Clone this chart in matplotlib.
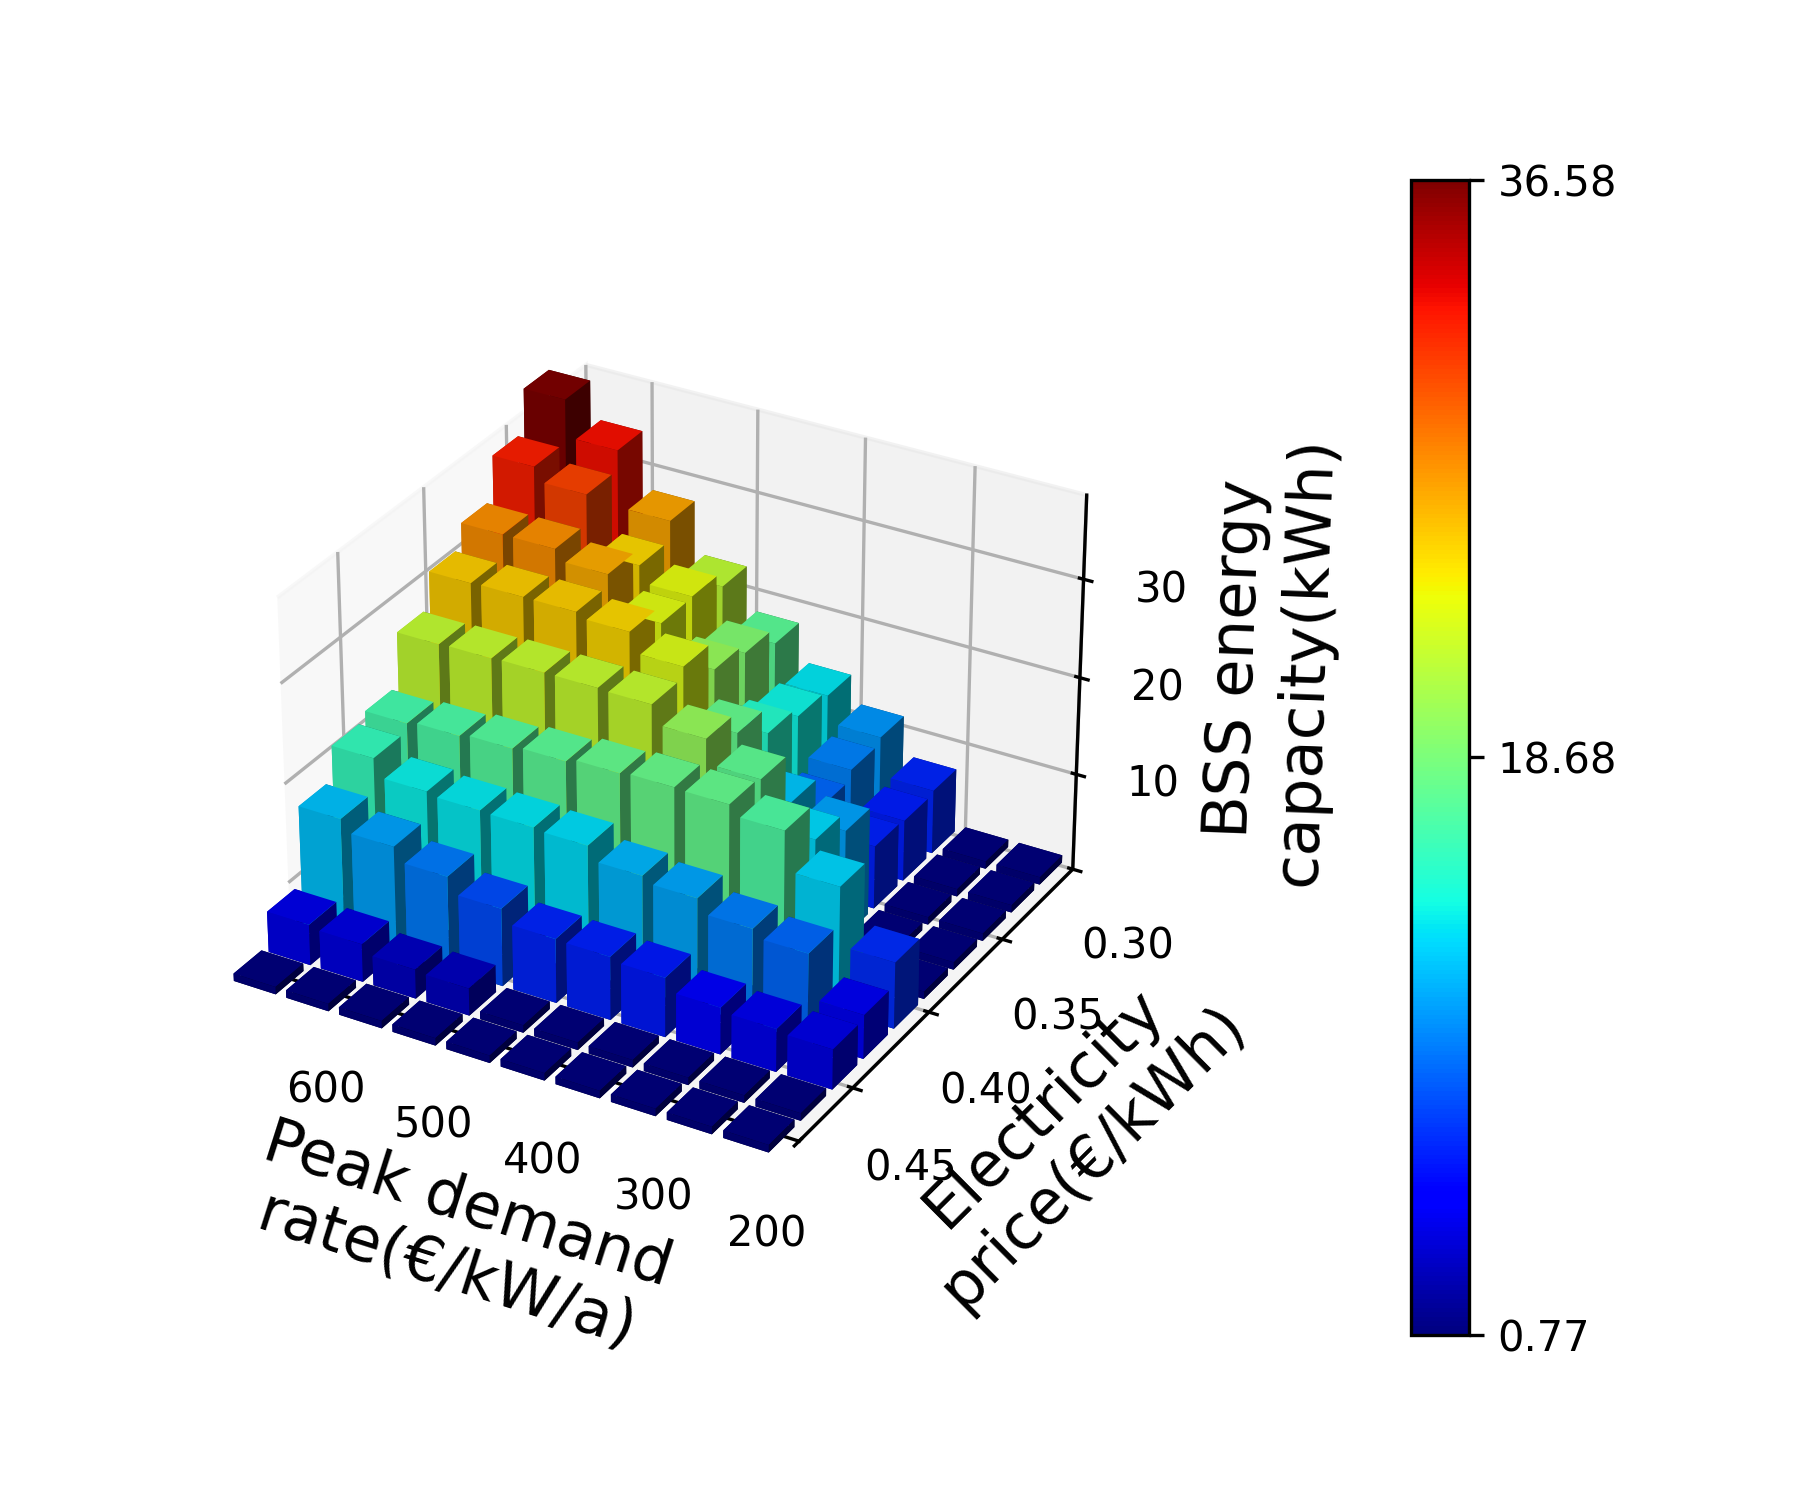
import numpy as np
import matplotlib
matplotlib.use("Agg")
import matplotlib.pyplot as plt
from matplotlib import cm
from matplotlib.colors import Normalize, LightSource

# peak demand rate, left -> right along the x axis
peak_rates = [650, 600, 550, 500, 450, 400, 350, 300, 250, 200]
# electricity price, front -> back along the y axis
prices = [0.48, 0.46, 0.44, 0.42, 0.40, 0.38, 0.36, 0.34, 0.32, 0.30]

# BSS energy capacity (kWh) for each price, in the order of peak_rates
cap_p048 = [0.77, 0.77, 0.77, 0.77, 0.77, 0.77, 0.77, 0.77, 0.77, 0.77]
cap_p046 = [4.2, 3.9, 3.0, 2.8, 0.77, 0.77, 0.77, 0.77, 0.77, 0.77]
cap_p044 = [12.2, 11.0, 9.6, 8.0, 6.6, 6.5, 6.1, 4.8, 4.4, 4.1]
cap_p042 = [15.6, 13.8, 13.5, 13.4, 13.2, 11.8, 11.2, 9.8, 9.0, 4.5]
cap_p040 = [16.4, 16.7, 17.0, 17.3, 17.7, 17.9, 17.8, 16.8, 12.8, 6.8]
cap_p038 = [21.8, 21.9, 22.0, 22.0, 21.9, 20.0, 17.5, 13.0, 0.77, 0.77]
cap_p036 = [25.4, 25.5, 25.5, 25.0, 23.0, 17.8, 12.3, 11.0, 0.77, 0.77]
cap_p034 = [27.8, 27.8, 26.7, 23.2, 20.0, 15.0, 9.0, 6.5, 0.77, 0.77]
cap_p032 = [32.2, 30.8, 25.0, 23.3, 19.0, 14.0, 10.0, 6.3, 0.77, 0.77]
cap_p030 = [36.58, 32.8, 27.0, 21.7, 17.3, 13.4, 10.6, 6.6, 0.77, 0.77]

x_ticks = [600, 500, 400, 300, 200]
y_ticks = [0.30, 0.35, 0.40, 0.45]
z_ticks = [10, 20, 30]
cbar_ticks = [0.77, 18.68, 36.58]

cap = np.array([cap_p048, cap_p046, cap_p044, cap_p042, cap_p040,
                cap_p038, cap_p036, cap_p034, cap_p032, cap_p030])

xi, yi = np.meshgrid(np.arange(len(peak_rates)), np.arange(len(prices)))
xpos = xi.ravel().astype(float)
ypos = yi.ravel().astype(float)
dz = cap.ravel()

norm = Normalize(vmin=min(cbar_ticks), vmax=max(cbar_ticks))
cmap = plt.get_cmap("jet")

fig = plt.figure(figsize=(6, 5), dpi=300)
ax = fig.add_subplot(111, projection="3d")
ax.bar3d(xpos, ypos, np.zeros_like(dz), 0.8, 0.8, dz,
         color=cmap(norm(dz)), shade=True,
         lightsource=LightSource(azdeg=225, altdeg=45))

x_lim = (0.78, 10.05)
y_lim = (0.5, 9.7)
rate_step = peak_rates[0] - peak_rates[1]
price_step = prices[0] - prices[1]
ax.set_xticks([x_lim[1] - (r - x_ticks[-1]) / rate_step for r in x_ticks])
ax.set_xticklabels([str(r) for r in x_ticks])
ax.set_yticks([y_lim[1] - (p - y_ticks[0]) / price_step for p in y_ticks])
ax.set_yticklabels([f"{p:.2f}" for p in y_ticks])
ax.set_zticks(z_ticks)
ax.tick_params(axis="x", pad=7)
ax.tick_params(axis="y", pad=7.5)
ax.tick_params(axis="z", pad=6)

ax.set_xlim(*x_lim)
ax.set_ylim(*y_lim)
ax.set_zlim(0, 38.4)
ax.set_box_aspect(None, zoom=0.81)

ax.set_xlabel("Peak demand\nrate(€/kW/a)", fontsize=15, labelpad=17)
ax.set_ylabel("Electricity\nprice(€/kWh)", fontsize=15, labelpad=14)
ax.set_zlabel("BSS energy\ncapacity(kWh)", fontsize=15, labelpad=14)

sm = cm.ScalarMappable(norm=norm, cmap=cmap)
cbar = fig.colorbar(sm, ax=ax, ticks=cbar_ticks)
cbar.ax.set_yticklabels([f"{t:.2f}" for t in cbar_ticks])

pos = ax.get_position()
ax.set_position([pos.x0 - 0.061, pos.y0 + 0.003, pos.width, pos.height])

fig.savefig("out.png", dpi=300)
